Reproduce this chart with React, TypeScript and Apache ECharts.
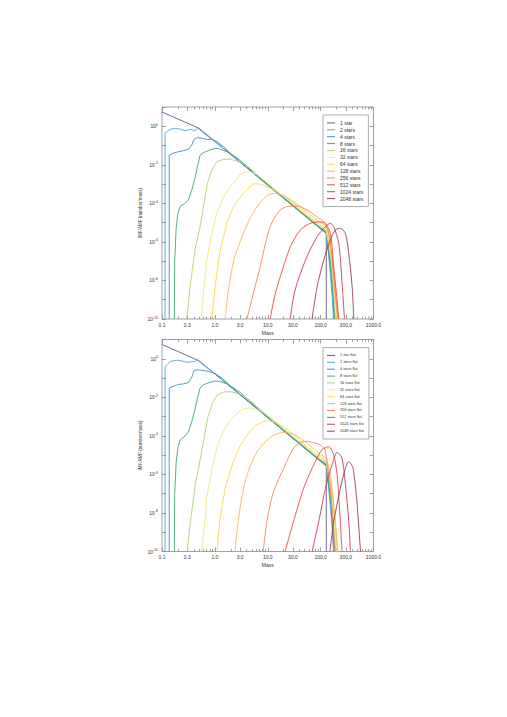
import React, { useEffect, useRef } from "react";
import * as echarts from "echarts";

type Pt = [number, number];

const namesTop = ["1 star", "2 stars", "4 stars", "8 stars", "16 stars", "32 stars", "64 stars", "128 stars", "256 stars", "512 stars", "1024 stars", "2048 stars"];
const namesBottom = ["1 star flat", "2 stars flat", "4 stars flat", "8 stars flat", "16 stars flat", "32 stars flat", "64 stars flat", "128 stars flat", "256 stars flat", "512 stars flat", "1024 stars flat", "2048 stars flat"];
const seriesColors = ["#5b5a8e", "#4fa8dc", "#3f8fbe", "#3fa67a", "#bccf6c", "#efe67a", "#f7d948", "#f8b45a", "#f5845a", "#e2483e", "#c83c56", "#983c4c"];

const xTickValues = [0.1, 0.3, 1, 3, 10, 30, 100, 300, 1000];
const xTickLabels = ["0.1", "0.3", "1.0", "3.0", "10.0", "30.0", "100.0", "300.0", "1000.0"];
const xMinorTickValues = [0.2, 0.4, 0.5, 0.6, 0.7, 0.8, 0.9, 2, 4, 5, 6, 7, 8, 9, 20, 40, 50, 60, 70, 80, 90, 200, 400, 500, 600, 700, 800, 900];
const yTickValues = [10, 1, 1e-1, 1e-2, 1e-3, 1e-4, 1e-5, 1e-6, 1e-7, 1e-8, 1e-9, 1e-10];
const yLabelValues = [1, 1e-2, 1e-4, 1e-6, 1e-8, 1e-10];
const yLabelExponents = ["0", "-2", "-4", "-6", "-8", "-10"];

// Top panel curves [mass, value]
const top1: Pt[] = [[0.1, 5.5], [0.5, 0.79], [128, 2.7e-6], [128, 1e-10]];
const top2: Pt[] = [[0.114, 1e-10], [0.114, 0.44], [0.123, 0.52], [0.142, 0.69], [0.176, 0.79], [0.219, 0.72], [0.273, 0.59], [0.34, 0.69], [0.42, 0.59], [0.49, 0.79], [0.566, 0.52], [0.755, 0.29], [1, 0.165], [3, 0.0136], [10, 8.8e-4], [30, 7.3e-5], [100, 4.8e-6], [128, 2.9e-6], [149, 5e-8], [165, 1.5e-9], [175, 1e-10]];
const top4: Pt[] = [[0.137, 1e-10], [0.137, 0.032], [0.164, 0.04], [0.204, 0.048], [0.254, 0.054], [0.315, 0.065], [0.366, 0.107], [0.404, 0.21], [0.468, 0.26], [0.566, 0.24], [0.703, 0.21], [0.875, 0.21], [1.09, 0.16], [1.46, 0.087], [1.95, 0.04], [3, 0.0142], [10, 9.2e-4], [30, 7.6e-5], [100, 5e-6], [128, 3.1e-6], [152, 6e-8], [170, 1.5e-9], [180, 1e-10]];
const top8: Pt[] = [[0.171, 1e-10], [0.174, 1e-7], [0.185, 5e-6], [0.2, 3e-5], [0.219, 6.8e-5], [0.273, 1e-4], [0.315, 1.5e-4], [0.366, 4.9e-4], [0.42, 2e-3], [0.468, 7.9e-3], [0.525, 0.032], [0.607, 0.043], [0.813, 0.059], [1.01, 0.072], [1.26, 0.065], [1.69, 0.048], [2.25, 0.03], [3.01, 0.017], [4.03, 8.5e-3], [6, 3e-3], [10, 9.6e-4], [30, 8e-5], [100, 5.3e-6], [128, 3.4e-6], [156, 7e-8], [175, 1.5e-9], [186, 1e-10]];
const top16: Pt[] = [[0.294, 1e-10], [0.34, 4.8e-9], [0.42, 3.8e-7], [0.525, 6.2e-6], [0.607, 6.8e-5], [0.723, 1.1e-3], [0.875, 5.4e-3], [1.09, 0.0145], [1.46, 0.0195], [1.95, 0.0195], [3.01, 0.0145], [4.66, 6.6e-3], [7, 2.4e-3], [10, 1.05e-3], [30, 8.6e-5], [100, 5.7e-6], [128, 3.8e-6], [160, 8e-8], [180, 1.5e-9], [192, 1e-10]];
const top32: Pt[] = [[0.548, 1e-10], [0.607, 2.1e-9], [0.703, 1.15e-7], [0.875, 2.8e-6], [1.09, 3.1e-5], [1.46, 2.2e-4], [1.95, 7.4e-4], [2.61, 1.9e-3], [3.01, 3.2e-3], [3.8, 4.2e-3], [4.66, 4.4e-3], [6.23, 3.1e-3], [8.34, 1.7e-3], [12.9, 6e-4], [30, 9.2e-5], [100, 6.3e-6], [128, 4.2e-6], [165, 9e-8], [186, 1.5e-9], [198, 1e-10]];
const top64: Pt[] = [[0.875, 1e-10], [1.01, 4.8e-9], [1.26, 3.8e-7], [1.69, 9.3e-6], [2.25, 6.8e-5], [3.47, 3.3e-4], [5.38, 1.05e-3], [7.2, 1e-3], [12.9, 5.2e-4], [20, 2.4e-4], [30, 1.1e-4], [60, 2.2e-5], [100, 7.5e-6], [125, 5.2e-6], [170, 1e-7], [192, 1.5e-9], [205, 1e-10]];
const top128: Pt[] = [[1.56, 1e-10], [1.8, 3e-9], [2.3, 1.2e-7], [3, 1e-6], [4, 7e-6], [5, 2.5e-5], [7.2, 1.1e-4], [10, 2.6e-4], [12.9, 3.3e-4], [20, 2.5e-4], [36, 9e-5], [60, 3e-5], [100, 1e-5], [125, 7e-6], [145, 1.5e-6], [170, 5e-8], [195, 1e-9], [212, 1e-10]];
const top256: Pt[] = [[4.04, 1e-10], [5.5, 3e-9], [7.2, 5.1e-8], [9, 8e-7], [11.1, 6.2e-6], [14, 2.2e-5], [17.3, 4.6e-5], [23, 6.8e-5], [35.7, 7.2e-5], [55, 4.6e-5], [86, 2e-5], [115, 1.1e-5], [135, 5e-6], [155, 7e-7], [175, 2e-8], [200, 5e-10], [212, 1e-10]];
const top512: Pt[] = [[11.1, 1e-10], [13.5, 1.5e-9], [17.3, 1.6e-8], [26.7, 5.6e-7], [41.3, 4.2e-6], [64, 9.3e-6], [96, 1.1e-5], [123, 9e-6], [153, 2.8e-6], [177, 5e-8], [205, 1e-9], [220, 1e-10]];
const top1024: Pt[] = [[26.7, 1e-10], [30, 1e-9], [35.7, 7e-9], [55, 1.7e-7], [86, 1.9e-6], [123, 6.2e-6], [153, 9.3e-6], [177, 6.2e-6], [220, 8.5e-7], [255, 7e-9], [282, 1e-10]];
const top2048: Pt[] = [[68.8, 1e-10], [86, 4.8e-9], [114, 1.1e-7], [153, 1.3e-6], [190, 4.2e-6], [237, 5.1e-6], [294, 2.8e-6], [340, 2.6e-7], [394, 4.8e-9], [424, 1e-10]];

// Bottom panel ("flat") curves [mass, value]
const flat1: Pt[] = [[0.1, 5.5], [0.5, 0.79], [128, 2.7e-6], [128, 1e-10]];
const flat2: Pt[] = [[0.114, 1e-10], [0.114, 0.39], [0.125, 0.5], [0.142, 0.72], [0.17, 0.8], [0.2, 0.85], [0.25, 0.74], [0.3, 0.66], [0.36, 0.7], [0.42, 0.74], [0.47, 0.85], [0.566, 0.55], [0.755, 0.3], [1, 0.165], [3, 0.0136], [10, 8.8e-4], [30, 7.3e-5], [100, 4.8e-6], [128, 2.9e-6], [149, 5e-8], [165, 1.5e-9], [175, 1e-10]];
const flat4: Pt[] = [[0.137, 1e-10], [0.137, 0.03], [0.164, 0.038], [0.204, 0.046], [0.254, 0.05], [0.315, 0.058], [0.366, 0.11], [0.404, 0.24], [0.468, 0.27], [0.566, 0.25], [0.703, 0.23], [0.875, 0.2], [1.09, 0.15], [1.46, 0.085], [1.95, 0.04], [3, 0.0142], [10, 9.2e-4], [30, 7.6e-5], [100, 5e-6], [128, 3.1e-6], [152, 6e-8], [170, 1.5e-9], [180, 1e-10]];
const flat8: Pt[] = [[0.171, 1e-10], [0.174, 1e-7], [0.185, 4e-6], [0.2, 2.5e-5], [0.219, 6e-5], [0.273, 1e-4], [0.315, 1.6e-4], [0.366, 5.5e-4], [0.42, 2.4e-3], [0.468, 9e-3], [0.525, 0.03], [0.607, 0.045], [0.813, 0.06], [1.01, 0.07], [1.26, 0.066], [1.69, 0.05], [2.25, 0.031], [3.01, 0.018], [4.03, 8.8e-3], [6, 3.1e-3], [10, 9.8e-4], [30, 8.1e-5], [100, 5.3e-6], [128, 3.4e-6], [156, 7e-8], [175, 1.5e-9], [186, 1e-10]];
const flat16: Pt[] = [[0.3, 1e-10], [0.35, 5e-9], [0.43, 3.5e-7], [0.53, 6e-6], [0.62, 7e-5], [0.74, 1e-3], [0.9, 5e-3], [1.1, 0.013], [1.46, 0.019], [1.95, 0.0195], [3.01, 0.0148], [4.66, 6.8e-3], [7, 2.5e-3], [10, 1.06e-3], [30, 8.7e-5], [100, 5.8e-6], [128, 3.9e-6], [160, 8e-8], [180, 1.5e-9], [192, 1e-10]];
const flat32: Pt[] = [[0.565, 1e-10], [0.63, 2e-9], [0.72, 1e-7], [0.9, 2.5e-6], [1.1, 2.6e-5], [1.46, 1.9e-4], [1.95, 6.6e-4], [2.61, 1.5e-3], [3.3, 2.4e-3], [4.3, 2.8e-3], [5.4, 2.7e-3], [7, 2.1e-3], [9.5, 1.3e-3], [14, 5.4e-4], [30, 9.3e-5], [100, 6.4e-6], [128, 4.3e-6], [165, 9e-8], [186, 1.5e-9], [198, 1e-10]];
const flat64: Pt[] = [[1.09, 1e-10], [1.25, 5e-9], [1.6, 2.5e-7], [2.2, 4e-6], [3, 3e-5], [4.3, 1.4e-4], [6, 3.6e-4], [9, 6e-4], [12.9, 5.6e-4], [20, 3e-4], [30, 1.25e-4], [60, 2.3e-5], [100, 7.8e-6], [125, 5.4e-6], [170, 1e-7], [192, 1.5e-9], [205, 1e-10]];
const flat128: Pt[] = [[2.4, 1e-10], [2.8, 5e-9], [3.5, 2e-7], [4.6, 2.5e-6], [6.3, 1.5e-5], [9, 5e-5], [13, 1.1e-4], [20, 1.5e-4], [30, 1.25e-4], [45, 6.5e-5], [70, 2.4e-5], [100, 1.05e-5], [125, 7e-6], [145, 2e-6], [170, 8e-8], [195, 1.5e-9], [212, 1e-10]];
const flat256: Pt[] = [[8.2, 1e-10], [9.8, 5e-9], [12.9, 1.3e-7], [20, 2.1e-6], [30.6, 2.3e-5], [42, 4.5e-5], [55, 5.2e-5], [75, 4.4e-5], [98, 3.4e-5], [120, 2e-5], [150, 2.8e-7], [170, 5e-9], [188, 1e-10]];
const flat512: Pt[] = [[21.3, 1e-10], [30.6, 3.5e-9], [47.6, 1.9e-7], [74, 3.1e-6], [106, 1.9e-5], [142, 2.75e-5], [177, 1e-5], [205, 9.3e-7], [236, 3.5e-9], [254, 1e-10]];
const flat1024: Pt[] = [[69, 1e-10], [92, 3.5e-9], [123, 1.9e-7], [164, 3.1e-6], [205, 1.4e-5], [254, 6.9e-6], [295, 2.8e-7], [341, 3.5e-9], [366, 1e-10]];
const flat2048: Pt[] = [[150, 1e-10], [177, 3.5e-9], [236, 1.9e-7], [295, 2.1e-6], [341, 4.6e-6], [410, 2.1e-6], [486, 3.8e-8], [567, 1e-10]];

const topCurves = [top1, top2, top4, top8, top16, top32, top64, top128, top256, top512, top1024, top2048];
const bottomCurves = [flat1, flat2, flat4, flat8, flat16, flat32, flat64, flat128, flat256, flat512, flat1024, flat2048];

const FONT = "'Liberation Sans', Arial, sans-serif";
const TICK_COLOR = "#8a8a8a";
const TEXT_COLOR = "#333";

const near = (a: number, b: number) => Math.abs(Math.log10(a) - Math.log10(b)) < 1e-6;

function xLabel(v: number) {
  const i = xTickValues.findIndex((t) => near(t, v));
  return i >= 0 ? xTickLabels[i] : "";
}
function yLabel(v: number) {
  const i = yLabelValues.findIndex((t) => near(t, v));
  return i >= 0 ? `10{e|${yLabelExponents[i]}}` : "";
}

function makeXAxes(gridIndex: number) {
  const base = {
    type: "log" as const,
    logBase: 10,
    min: 0.1,
    max: 1000,
    gridIndex,
    splitLine: { show: false },
    axisLine: { show: false },
  };
  const tickLine = { color: TICK_COLOR, width: 0.8 };
  return [
    {
      ...base,
      position: "bottom",
      name: "Mass",
      nameLocation: "middle",
      nameGap: 11,
      nameTextStyle: { fontSize: 5, color: TEXT_COLOR, fontFamily: FONT },
      axisTick: { show: true, inside: true, length: 4, customValues: xTickValues, lineStyle: tickLine },
      axisLabel: { show: true, customValues: xTickValues, formatter: xLabel, fontSize: 5, margin: 3, color: TEXT_COLOR, fontFamily: FONT },
    },
    { ...base, position: "bottom", axisTick: { show: true, inside: true, length: 2.5, customValues: xMinorTickValues, lineStyle: tickLine }, axisLabel: { show: false } },
    { ...base, position: "top", axisTick: { show: true, inside: true, length: 4, customValues: xTickValues, lineStyle: tickLine }, axisLabel: { show: false } },
    { ...base, position: "top", axisTick: { show: true, inside: true, length: 2.5, customValues: xMinorTickValues, lineStyle: tickLine }, axisLabel: { show: false } },
  ];
}

function makeYAxes(gridIndex: number) {
  const base = {
    type: "log" as const,
    logBase: 10,
    min: 1e-10,
    max: 10,
    gridIndex,
    splitLine: { show: false },
    axisLine: { show: false },
  };
  const tickLine = { color: TICK_COLOR, width: 0.8 };
  return [
    {
      ...base,
      position: "left",
      name: "IMF/AMF (number/mass)",
      nameLocation: "middle",
      nameGap: 19,
      nameRotate: 90,
      nameTextStyle: { fontSize: 4.5, color: TEXT_COLOR, fontFamily: FONT },
      axisTick: { show: true, inside: true, length: 4, customValues: yTickValues, lineStyle: tickLine },
      axisLabel: {
        show: true,
        customValues: yLabelValues,
        formatter: yLabel,
        fontSize: 5,
        margin: 4,
        color: TEXT_COLOR,
        fontFamily: FONT,
        rich: { e: { fontSize: 3.5, verticalAlign: "top", padding: [0, 0, 3, 0], color: TEXT_COLOR, fontFamily: FONT } },
      },
    },
    { ...base, position: "right", axisTick: { show: true, inside: true, length: 4, customValues: yTickValues, lineStyle: tickLine }, axisLabel: { show: false } },
  ];
}

function makeLegend(names: string[], top: number, fontSize: number) {
  return {
    data: names,
    orient: "vertical",
    left: 323,
    top,
    padding: [4.5, 5, 4.5, 4],
    itemGap: 0,
    itemWidth: 8,
    itemHeight: 1,
    icon: "rect",
    borderColor: "#9a9a9a",
    borderWidth: 0.8,
    backgroundColor: "#fff",
    textStyle: { fontSize, lineHeight: 6.88, color: TEXT_COLOR, fontFamily: FONT },
  };
}

function makeSeries(name: string, data: Pt[], i: number, xAxisIndex: number, yAxisIndex: number) {
  return {
    type: "line",
    name,
    xAxisIndex,
    yAxisIndex,
    data,
    showSymbol: false,
    color: seriesColors[i],
    lineStyle: { width: 0.9, color: seriesColors[i] },
    smooth: i >= 7 ? 0.25 : false,
    clip: true,
  };
}

export default function App() {
  const ref = useRef<HTMLDivElement>(null);
  useEffect(() => {
    if (!ref.current) return;
    const chart = echarts.init(ref.current, null, { renderer: "svg" });
    const series: any[] = [];
    topCurves.forEach((d, i) => series.push(makeSeries(namesTop[i], d, i, 0, 0)));
    bottomCurves.forEach((d, i) => series.push(makeSeries(namesBottom[i], d, i, 4, 2)));
    chart.setOption({
      animation: false,
      backgroundColor: "#fff",
      grid: [
        { left: 162, top: 107, width: 211.5, height: 212, show: true, borderColor: "#8a8a8a", borderWidth: 0.8, backgroundColor: "transparent" },
        { left: 162, top: 339.5, width: 211.5, height: 212, show: true, borderColor: "#8a8a8a", borderWidth: 0.8, backgroundColor: "transparent" },
      ],
      xAxis: [...makeXAxes(0), ...makeXAxes(1)],
      yAxis: [...makeYAxes(0), ...makeYAxes(1)],
      legend: [makeLegend(namesTop, 115, 5), makeLegend(namesBottom, 347.5, 3.8)],
      series,
    });
    return () => chart.dispose();
  }, []);
  return <div ref={ref} style={{ position: "fixed", left: 0, top: 0, width: 507, height: 717 }} />;
}
